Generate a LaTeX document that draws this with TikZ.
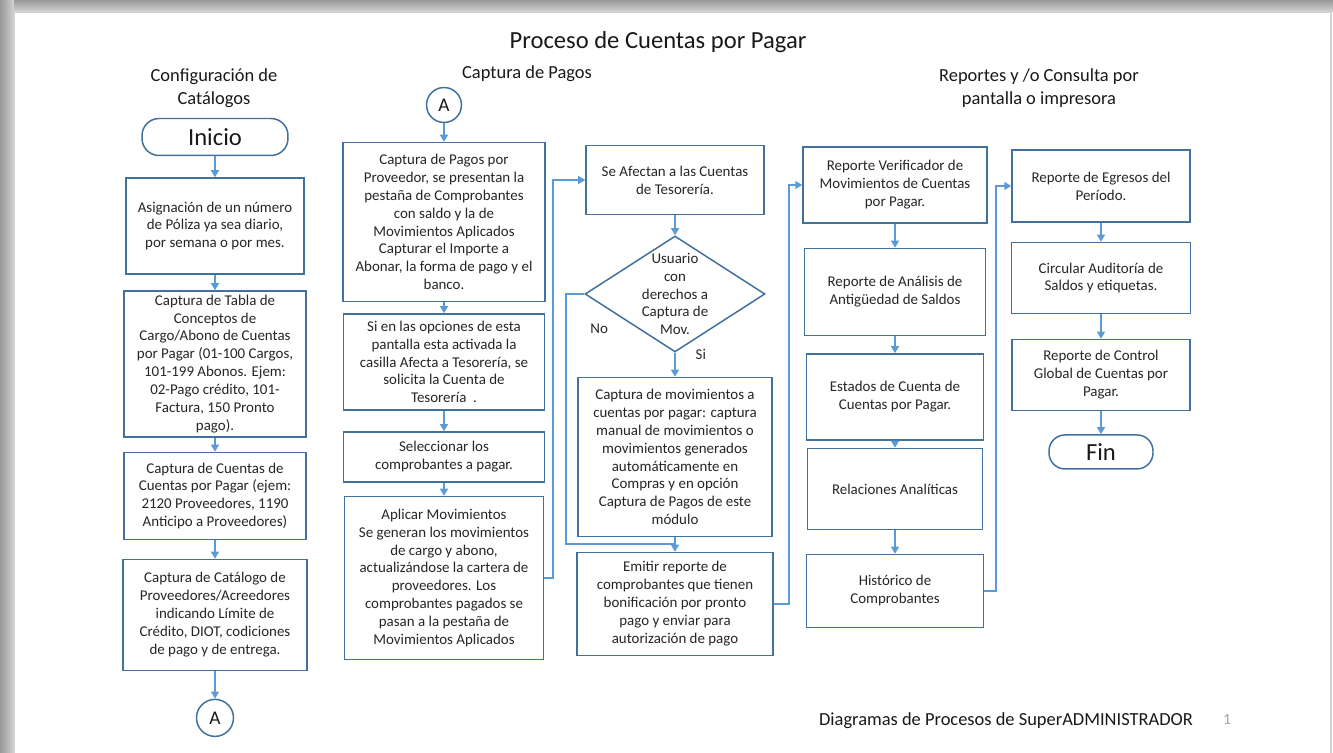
\documentclass[tikz,border=0pt]{standalone}
\usepackage{fontspec}
\setmainfont{Carlito}
\usetikzlibrary{positioning,shapes.geometric,arrows.meta}
\definecolor{boxblue}{HTML}{41719C}
\definecolor{lineblue}{HTML}{5B9BD5}
\tikzset{
block/.style={rectangle, text centered, align=center, draw=boxblue, line width=0.85pt, fill=white, text=black!85, inner sep=2pt, font=\fontsize{8.5}{10.2}\selectfont},
terminal/.style={rectangle, rounded corners=0.34cm, align=center, draw=boxblue, line width=0.85pt, fill=white, text=black!90, font=\fontsize{14}{16}\selectfont},
connector/.style={circle, draw=boxblue, line width=0.85pt, fill=white, minimum size=0.74cm, inner sep=0pt, text=black!90, font=\fontsize{11}{13}\selectfont},
decision/.style={diamond, draw=boxblue, line width=0.85pt, fill=white, minimum width=3.6cm, minimum height=2.32cm, inner sep=0pt},
header/.style={align=center, text=black!90, font=\fontsize{10.5}{13}\selectfont},
small/.style={align=center, text=black!85, font=\fontsize{8.5}{10.2}\selectfont},
arrow/.style={line width=0.9pt, draw=lineblue, -{Triangle[length=4pt,width=4.5pt]}},
noarrow/.style={line width=0.9pt, draw=lineblue}}

\begin{document}
\begin{tikzpicture}[x=0.02cm, y=-0.02cm]
\useasboundingbox (0,0) rectangle (1333,753);
% slide frame
\shade [top color=gray!80, bottom color=gray!35] (0,0) rectangle (1333,12);
\shade [left color=gray!80, right color=gray!35] (0,0) rectangle (14,753);
\filldraw [fill=white, draw=gray!35, line width=0.6pt] (14,12) rectangle (1331,760);

\node (title) [header, font=\fontsize{14}{16}\selectfont] at (658,42) {Proceso de Cuentas por Pagar};
\node (configHead) [header] at (214,88) {Configuración de\\Catálogos};
\node (pagosHead) [header] at (527,74) {Captura de Pagos};
\node (reportesHead) [header] at (1039,88) {Reportes y /o Consulta por\\pantalla o impresora};

% configuracion de catalogos
\node (inicio) [terminal, minimum width=2.92cm, minimum height=0.74cm] at (215,137) {Inicio};
\node (poliza) [block, below of=inicio, node distance=1.78cm, minimum width=3.56cm, minimum height=1.92cm] {Asignación de un número\\de Póliza ya sea diario,\\por semana o por mes.};
\node (conceptos) [block, below of=poliza, node distance=2.76cm, minimum width=3.64cm, minimum height=2.92cm] {Captura de Tabla de\\Conceptos de\\Cargo/Abono de Cuentas\\por Pagar (01-100 Cargos,\\101-199 Abonos. Ejem:\\02-Pago crédito, 101-\\Factura, 150 Pronto\\pago).};
\node (cuentas) [block, below of=conceptos, node distance=2.64cm, minimum width=3.64cm, minimum height=1.74cm] {Captura de Cuentas de\\Cuentas por Pagar (ejem:\\2120 Proveedores, 1190\\Anticipo a Proveedores)};
\node (catalogo) [block, below of=cuentas, node distance=2.38cm, minimum width=3.68cm, minimum height=2.22cm] {Captura de Catálogo de\\Proveedores/Acreedores\\indicando Límite de\\Crédito, DIOT, codiciones\\de pago y de entrega.};
\node (outA) [connector, below of=catalogo, node distance=2.06cm] {A};

% captura de pagos
\node (inA) [connector, minimum size=0.70cm] at (444,105) {A};
\node (pagos) [block, below of=inA, node distance=2.34cm, minimum width=4.04cm, minimum height=3.18cm] {Captura de Pagos por\\Proveedor, se presentan la\\pestaña de Comprobantes\\con saldo y la de\\Movimientos Aplicados\\Capturar el Importe a\\Abonar, la forma de pago y el\\banco.};
\node (tesoreria) [block, below of=pagos, node distance=2.80cm, minimum width=4.02cm, minimum height=1.92cm] {Si en las opciones de esta\\pantalla esta activada la\\casilla Afecta a Tesorería, se\\solicita la Cuenta de\\Tesorería~~.};
\node (seleccion) [block, below of=tesoreria, node distance=1.90cm, minimum width=4.02cm, minimum height=1.0cm] {Seleccionar los\\comprobantes a pagar.};
\node (aplicar) [block, below of=seleccion, node distance=2.42cm, minimum width=3.98cm, minimum height=3.26cm] {Aplicar Movimientos\\Se generan los movimientos\\de cargo y abono,\\actualizándose la cartera de\\proveedores. Los\\comprobantes pagados se\\pasan a la pestaña de\\Movimientos Aplicados};

\node (afectan) [block, minimum width=3.56cm, minimum height=1.38cm] at (675,180) {Se Afectan a las Cuentas\\de Tesorería.};
\node (derechos) [decision, below of=afectan, node distance=2.28cm] {};
\node (derechosText) [small] at (derechos) {Usuario\\con\\derechos a\\Captura de\\Mov.};
\node (movs) [block, below of=derechos, node distance=3.26cm, minimum width=3.88cm, minimum height=3.18cm] {Captura de movimientos a\\cuentas por pagar: captura\\manual de movimientos o\\movimientos generados\\automáticamente en\\Compras y en opción\\Captura de Pagos de este\\módulo};
\coordinate [below of=movs, node distance=1.74cm] (joinNo);
\node (emitir) [block, below of=movs, node distance=2.94cm, minimum width=3.92cm, minimum height=2.06cm] {Emitir reporte de\\comprobantes que tienen\\bonificación por pronto\\pago y enviar para\\autorización de pago};

% reportes
\node (verificador) [block, minimum width=3.68cm, minimum height=1.52cm] at (895,185) {Reporte Verificador de\\Movimientos de Cuentas\\por Pagar.};
\node (antiguedad) [block, below of=verificador, node distance=2.14cm, minimum width=3.62cm, minimum height=1.74cm] {Reporte de Análisis de\\Antigüedad de Saldos};
\node (estados) [block, below of=antiguedad, node distance=2.10cm, minimum width=3.54cm, minimum height=1.72cm] {Estados de Cuenta de\\Cuentas por Pagar.};
\node (relaciones) [block, below of=estados, node distance=1.84cm, minimum width=3.50cm, minimum height=1.62cm] {Relaciones Analíticas};
\node (historico) [block, below of=relaciones, node distance=2.04cm, minimum width=3.54cm, minimum height=1.46cm] {Histórico de\\Comprobantes};

\node (egresos) [block, minimum width=3.56cm, minimum height=1.44cm] at (1101,186) {Reporte de Egresos del\\Período.};
\node (auditoria) [block, below of=egresos, node distance=1.84cm, minimum width=3.58cm, minimum height=1.42cm] {Circular Auditoría de\\Saldos y etiquetas.};
\node (control) [block, below of=auditoria, node distance=1.94cm, minimum width=3.56cm, minimum height=1.42cm] {Reporte de Control\\Global de Cuentas por\\Pagar.};
\node (fin) [terminal, below of=control, node distance=1.54cm, minimum width=2.08cm, minimum height=0.68cm, rounded corners=0.32cm] {Fin};

\node (footer) [header] at (1006,721) {Diagramas de Procesos de SuperADMINISTRADOR};
\node (pageNum) [header, text=gray!70, font=\fontsize{9}{11}\selectfont] at (1227,719) {1};

\draw [arrow] (inicio) -- (poliza);
\draw [arrow] (poliza) -- (conceptos);
\draw [arrow] (conceptos) -- (cuentas);
\draw [arrow] (cuentas) -- (catalogo);
\draw [arrow] (catalogo) -- (outA);
\draw [arrow] (inA) -- (pagos);
\draw [arrow] (pagos) -- (tesoreria);
\draw [arrow] (tesoreria) -- (seleccion);
\draw [arrow] (seleccion) -- (aplicar);
\draw [arrow] (aplicar.east) -- ++(9,0) |- (afectan.west);
\draw [arrow] (afectan) -- (derechos);
\draw [arrow] (derechos) -- node [pos=0.05, right=8pt, small] {Si} (movs);
\draw [noarrow] (derechos.west) -- ++(-18,0) |- node [pos=0.07, right=10pt, small] {No} (joinNo);
\draw [arrow] (movs) -- (emitir);
\draw [arrow] (emitir.east) -- ++(15,0) |- (verificador.west);
\draw [arrow] (verificador) -- (antiguedad);
\draw [arrow] (antiguedad) -- (estados);
\draw [arrow] (estados) -- (relaciones);
\draw [arrow] (relaciones) -- (historico);
\draw [arrow] (historico.east) -- ++(12,0) |- (egresos.west);
\draw [arrow] (egresos) -- (auditoria);
\draw [arrow] (auditoria) -- (control);
\draw [arrow] (control) -- (fin);
\end{tikzpicture}
\end{document}
